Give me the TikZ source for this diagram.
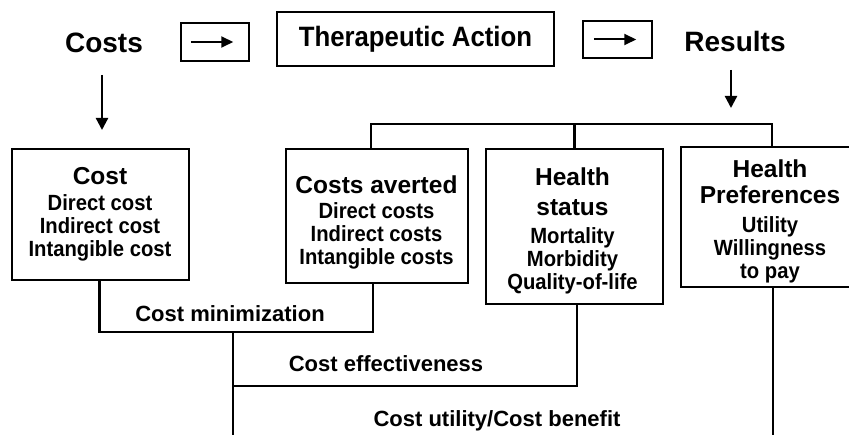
\documentclass[tikz,border=0pt]{standalone}
\usepackage{fontspec}
\setmainfont{Liberation Sans}
\newfontfamily\narrowf{Liberation Sans}[FakeStretch=0.92]
\usetikzlibrary{arrows.meta}
\newcommand\ttlf{\rmfamily\fontsize{24.5}{28}\selectfont}
\begin{document}
\begin{tikzpicture}[x=1pt,y=-1pt,
  ln/.style={line width=2.4pt},
  box/.style={draw, line width=2.5pt, rectangle, inner sep=0pt},
  topt/.style={font=\fontsize{28}{32}\selectfont\bfseries, inner sep=0pt, anchor=base},
  boxtxt/.style={font=\narrowf\fontsize{22}{23}\selectfont\bfseries, inner sep=0pt, align=center, anchor=north},
  lbl/.style={font=\fontsize{22}{26}\selectfont\bfseries, inner sep=0pt, anchor=base},
  arr/.style={line width=2.3pt, -{Triangle[length=12pt,width=12pt]}},
  sarr/.style={line width=2pt, -{Triangle[length=12pt,width=11pt]}}
]
\useasboundingbox (0,0) rectangle (849,435);
\clip (0,0) rectangle (849,435);

% top row
\node[topt] (costs) at (104,53) {Costs};
\node[topt] (results) at (735,52) {Results};
\node[box, minimum width=68pt, minimum height=38pt] (b1) at (215,42) {};
\draw[sarr] ([xshift=11pt]b1.west) -- ([xshift=-17pt]b1.east);
\node[box, minimum width=277pt, minimum height=54pt, font=\narrowf\fontsize{28}{30}\selectfont\bfseries] (ther) at (415.5,39) {Therapeutic Action};
\node[box, minimum width=69pt, minimum height=37pt] (b2) at (617.5,39.5) {};
\draw[sarr] ([xshift=12pt]b2.west) -- ([xshift=-17pt]b2.east);

\coordinate (ca) at (102,75);
\coordinate (cb) at (102,130);
\draw[arr] (ca) -- (cb);
\coordinate (ra) at (731,70);
\coordinate (rb) at (731,108);
\draw[arr] (ra) -- (rb);

% boxes
\node[box, minimum width=177pt, minimum height=131pt] (cost) at (100.5,214.5) {};
\node[boxtxt] (costt) at (100,167.4) {{\ttlf Cost}\\[3pt]Direct cost\\Indirect cost\\Intangible cost};

\node[box, minimum width=182pt, minimum height=134pt] (averted) at (377,216) {};
\node[boxtxt] (avertedt) at (376.5,175.4) {{\ttlf Costs averted}\\[2pt]Direct costs\\Indirect costs\\Intangible costs};

\node[box, minimum width=177pt, minimum height=155pt] (status) at (574.5,226.5) {};
\node[boxtxt] (statust) at (572.5,167.4) {{\ttlf Health}\\[7pt]{\ttlf status}\\[5pt]Mortality\\Morbidity\\Quality-of-life};

\node[box, minimum width=182pt, minimum height=140pt] (pref) at (772,217) {};
\node[boxtxt] (preft) at (770,159.4) {{\ttlf Health}\\[3pt]{\ttlf Preferences}\\[6pt]Utility\\Willingness\\to pay};

% top bus
\coordinate (bus) at (0,124);
\draw[ln] ([xshift=-6pt]averted.north) -- ([xshift=-6pt]averted.north |- bus) -- (pref.north |- bus) -- (pref.north);
\draw[ln] (status.north) -- (status.north |- bus);

% cost minimization
\coordinate (cm) at (0,332);
\draw[ln] ([xshift=-1pt]cost.south) -- ([xshift=-1pt]cost.south |- cm) -- ([xshift=-4pt]averted.south |- cm) -- ([xshift=-4pt]averted.south);
\node[lbl] (lcm) at (230,322) {Cost minimization};

% cost effectiveness
\coordinate (mid) at (233,332);
\coordinate (midend) at (233,440);
\draw[ln] (mid) -- (midend);
\coordinate (ce) at (233,386);
\draw[ln] (ce) -- ([xshift=2.5pt]status.south |- ce) -- ([xshift=2.5pt]status.south);
\node[lbl] (lce) at (386,372) {Cost effectiveness};

% cost utility / benefit
\coordinate (pe) at (773,440);
\draw[ln] ([xshift=1pt]pref.south) -- (pe);
\node[lbl] (lcu) at (497,427) {Cost utility/Cost benefit};
\end{tikzpicture}
\end{document}
